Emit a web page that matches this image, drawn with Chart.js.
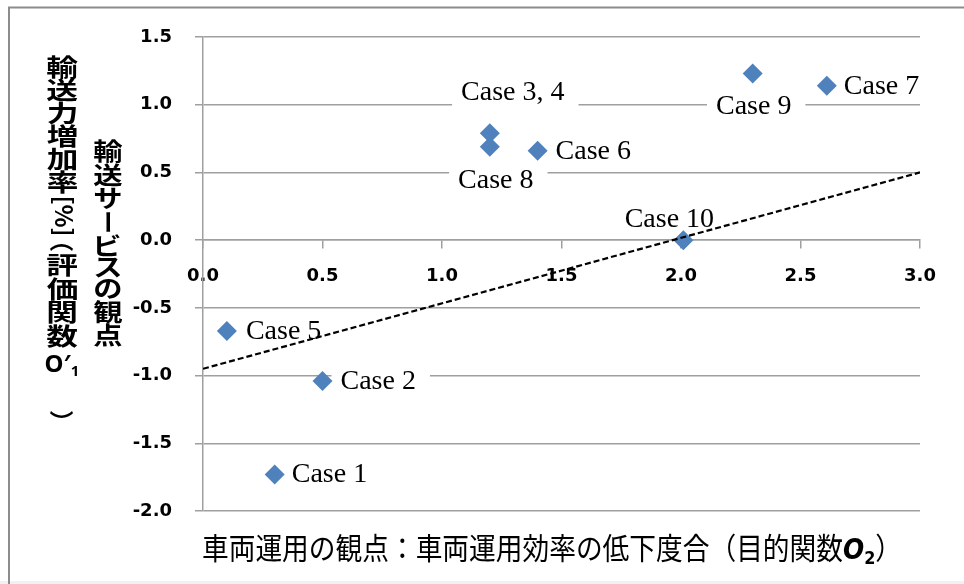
<!DOCTYPE html>
<html>
<head>
<meta charset="utf-8">
<script src="https://cdn.jsdelivr.net/npm/chart.js@4.4.1/dist/chart.umd.min.js"></script>
<style>
  html, body { margin: 0; padding: 0; background: #fff; }
  #wrap { width: 964px; height: 584px; position: relative; }
</style>
</head>
<body>
<div id="wrap"><canvas id="chart" width="964" height="584"></canvas></div>
<script>
// Evaluated cases: vehicle-operation view (O2) vs. transport-service view (O'1)
const caseLabels = ['Case 1', 'Case 2', 'Case 3, 4', 'Case 5', 'Case 6', 'Case 7', 'Case 8', 'Case 9', 'Case 10'];
const efficiencyDrop = [0.30, 0.50, 1.20, 0.10, 1.40, 2.61, 1.20, 2.30, 2.01];
const capacityGain = [-1.73, -1.04, 0.79, -0.67, 0.66, 1.14, 0.69, 1.23, 0.00];

// Dashed reference line end points
const boundaryX = [0, 3];
const boundaryY = [-0.95, 0.5];

// Axis ticks
const xTickValues = [0, 0.5, 1, 1.5, 2, 2.5, 3];
const xTickLabels = ['0.0', '0.5', '1.0', '1.5', '2.0', '2.5', '3.0'];
const yTickValues = [-2, -1.5, -1, -0.5, 0, 0.5, 1, 1.5];
const yTickLabels = ['-2.0', '-1.5', '-1.0', '-0.5', '0.0', '0.5', '1.0', '1.5'];

// Where each case label sits relative to its marker
const labelPlacement = [
  { side: 'right', dx: 17, dy: 8 },
  { side: 'right', dx: 18, dy: 8 },
  { side: 'center', dx: 23, dy: -33 },
  { side: 'right', dx: 19, dy: 8 },
  { side: 'right', dx: 18, dy: 8 },
  { side: 'right', dx: 17, dy: 8 },
  { side: 'center', dx: 6, dy: 41 },
  { side: 'center', dx: 1, dy: 40 },
  { side: 'center', dx: -14, dy: -13 }
];

const GRID = '#9f9f9f';

const framePlugin = {
  id: 'frame',
  beforeDraw(chart) {
    const ctx = chart.ctx;
    ctx.save();
    ctx.fillStyle = '#fff';
    ctx.fillRect(0, 0, chart.width, chart.height);
    ctx.fillStyle = '#f1f1f1';
    ctx.fillRect(0, chart.height - 3, chart.width, 3);
    ctx.strokeStyle = '#8c8c8c';
    ctx.lineWidth = 2;
    ctx.beginPath();
    ctx.moveTo(9, chart.height);
    ctx.lineTo(9, 7.5);
    ctx.lineTo(chart.width, 7.5);
    ctx.stroke();
    ctx.restore();
  }
};

const caseLabelPlugin = {
  id: 'caseLabels',
  beforeDatasetsDraw(chart) {
    const meta = chart.getDatasetMeta(1);
    const ctx = chart.ctx;
    ctx.save();
    ctx.font = '28px "Liberation Serif"';
    ctx.textAlign = 'left';
    ctx.textBaseline = 'alphabetic';
    const items = meta.data.map((pt, i) => {
      const p = labelPlacement[i];
      const text = caseLabels[i];
      const w = ctx.measureText(text).width;
      const left = p.side === 'right' ? pt.x + p.dx : pt.x + p.dx - w / 2;
      return { text, w, left, base: pt.y + p.dy };
    });
    ctx.fillStyle = '#fff';
    items.forEach(it => ctx.fillRect(it.left - 9, it.base - 27, it.w + 23, 35));
    ctx.fillStyle = '#000';
    items.forEach(it => ctx.fillText(it.text, it.left, it.base));
    ctx.restore();
  }
};

function inkOffset(ctx, s) {
  const m = ctx.measureText(s);
  return {
    cx: (m.actualBoundingBoxRight - m.actualBoundingBoxLeft) / 2,
    cy: (m.actualBoundingBoxDescent - m.actualBoundingBoxAscent) / 2
  };
}

function drawUpright(ctx, s, x, y, sx) {
  const o = inkOffset(ctx, s);
  ctx.save();
  ctx.translate(x, y);
  ctx.scale(sx, 1);
  ctx.fillText(s, -o.cx, -o.cy);
  ctx.restore();
}

function drawSideways(ctx, s, x, y) {
  const o = inkOffset(ctx, s);
  ctx.save();
  ctx.translate(x, y);
  ctx.rotate(Math.PI / 2);
  ctx.fillText(s, -o.cx, -o.cy);
  ctx.restore();
}

const axisTitlePlugin = {
  id: 'axisTitles',
  afterDraw(chart) {
    const ctx = chart.ctx;
    ctx.save();
    ctx.fillStyle = '#000';
    ctx.textAlign = 'left';
    ctx.textBaseline = 'alphabetic';
    const cjk = 'bold 24px "Noto Sans CJK JP"';

    // outer vertical title: 輸送力増加率[%]（評価関数O′₁）
    const outerX = 62;
    const outer = [
      ['輸', 67, 'u'], ['送', 90, 'u'], ['力', 113, 'u'], ['増', 136, 'u'],
      ['加', 159, 'u'], ['率', 182, 'u'], ['[%]', 216, 's'], ['（', 247, 's'],
      ['評', 265, 'u'], ['価', 289, 'u'], ['関', 312, 'u'], ['数', 336, 'u'],
      ['）', 415, 's']
    ];
    ctx.font = cjk;
    outer.forEach(([s, y, m]) => m === 'u' ? drawUpright(ctx, s, outerX, y, 1.32) : drawSideways(ctx, s, outerX, y));
    ctx.font = 'bold 24px "Noto Sans"';
    const oW = ctx.measureText('O′').width;
    ctx.font = 'bold 15px "Noto Sans"';
    const sW = ctx.measureText('1').width;
    const startX = outerX - (oW + sW) / 2;
    ctx.font = 'bold 24px "Noto Sans"';
    ctx.fillText('O′', startX, 372);
    ctx.font = 'bold 15px "Noto Sans"';
    ctx.fillText('1', startX + oW, 376);

    // inner vertical title: 輸送サービスの観点
    const innerX = 108;
    const inner = [
      ['輸', 151, 'u'], ['送', 175, 'u'], ['サ', 198, 'u'], ['ー', 222, 's'],
      ['ビ', 245, 'u'], ['ス', 267, 'u'], ['の', 289, 'u'], ['観', 312, 'u'], ['点', 335, 'u']
    ];
    ctx.font = cjk;
    inner.forEach(([s, y, m]) => m === 'u' ? drawUpright(ctx, s, innerX, y, 1.22) : drawSideways(ctx, s, innerX, y));

    // horizontal title: 車両運用の観点：車両運用効率の低下度合（目的関数O₂）
    const parts = [
      { t: '車両運用の観点：車両運用効率の低下度合（目的関数', f: '30px "Noto Sans CJK JP"', dy: 0 },
      { t: 'O', f: 'italic bold 28px "DejaVu Sans"', dy: 0 },
      { t: '2', f: 'bold 18px "DejaVu Sans"', dy: 5 },
      { t: '）', f: '30px "Noto Sans CJK JP"', dy: 0 }
    ];
    let total = 0;
    parts.forEach(p => { ctx.font = p.f; p.w = ctx.measureText(p.t).width; total += p.w; });
    const targetW = 700;
    const sx = targetW / total;
    ctx.save();
    ctx.translate(202, 559);
    ctx.scale(sx, 1);
    let cx = 0;
    parts.forEach(p => { ctx.font = p.f; ctx.fillText(p.t, cx, p.dy); cx += p.w; });
    ctx.restore();
    ctx.restore();
  }
};

const tickFont = { family: 'DejaVu Sans', weight: 'bold', size: 18 };

new Chart(document.getElementById('chart'), {
  type: 'scatter',
  data: {
    datasets: [
      {
        label: 'boundary',
        data: boundaryX.map((x, i) => ({ x, y: boundaryY[i] })),
        showLine: true,
        borderColor: '#000',
        borderWidth: 2.2,
        borderDash: [6, 3],
        pointRadius: 0,
        fill: false
      },
      {
        label: 'cases',
        data: efficiencyDrop.map((x, i) => ({ x, y: capacityGain[i] })),
        pointStyle: 'rectRot',
        pointRadius: 10,
        pointHoverRadius: 10,
        backgroundColor: '#4f81bd',
        borderColor: '#4f81bd',
        borderWidth: 0
      }
    ]
  },
  options: {
    responsive: false,
    devicePixelRatio: 1,
    animation: false,
    layout: { padding: { top: 37, right: 44, bottom: 73, left: 0 } },
    plugins: { legend: { display: false }, tooltip: { enabled: false } },
    scales: {
      x: {
        type: 'linear',
        min: 0,
        max: 3,
        position: { y: 0 },
        afterBuildTicks: s => { s.ticks = xTickValues.map(v => ({ value: v })); },
        ticks: {
          callback: (v, i) => xTickLabels[i],
          font: tickFont,
          color: '#000',
          padding: 17,
          maxRotation: 0,
          autoSkip: false
        },
        grid: { drawOnChartArea: false, drawTicks: true, tickLength: 8, color: GRID, lineWidth: 1.5 },
        border: { display: true, color: GRID, width: 1.5 }
      },
      y: {
        type: 'linear',
        min: -2,
        max: 1.5,
        afterBuildTicks: s => { s.ticks = yTickValues.map(v => ({ value: v })); },
        afterFit: s => { s.width = 203; },
        ticks: {
          callback: (v, i) => yTickLabels[i],
          font: tickFont,
          color: '#000',
          padding: 23,
          autoSkip: false
        },
        grid: { drawTicks: true, tickLength: 8, color: GRID, lineWidth: 1.5 },
        border: { display: true, color: GRID, width: 1.5 }
      }
    }
  },
  plugins: [framePlugin, caseLabelPlugin, axisTitlePlugin]
});
</script>
</body>
</html>
